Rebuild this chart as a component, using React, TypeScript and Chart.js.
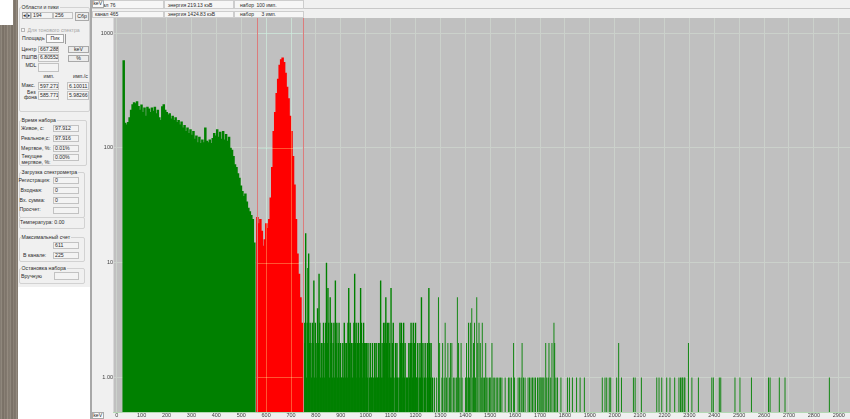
import { useEffect, useRef } from "react";
import { Chart, registerables } from "chart.js";

Chart.register(...registerables);

// ---- spectrum data ---------------------------------------------------------

// energy calibration: keV = offset + gain * channel
const CAL_OFFSET_KEV = -16;
const CAL_GAIN_KEV = 2.98;

// region of interest, in channels (same numbers as the ROI fields)
const ROI_CHANNELS = [194, 256];

// counts per pair of channels below the region of interest
const LOW_START_KEV = 28;
const LOW_COUNTS = [
  580, 165, 160, 168, 185, 215, 240, 250, 245, 255,
  232, 215, 238, 205, 225, 190, 228, 220, 205, 225,
  210, 228, 200, 215, 185, 175, 230, 240, 215, 205,
  195, 200, 180, 190, 175, 185, 168, 175, 160, 170,
  150, 158, 140, 150, 135, 145, 130, 140, 120, 128,
  112, 125, 110, 118, 112, 150, 115, 112, 118, 110,
  122, 135, 128, 145, 125, 138, 120, 140, 118, 132,
  115, 125, 100, 96, 85, 72, 68, 60, 55, 47,
  42, 38, 40, 34, 30, 28, 26, 24, 15,
];

// counts per pair of channels inside the region of interest (662 keV line)
const ROI_START_KEV = 565;
const ROI_COUNTS = [
  25, 22, 24, 19, 14, 16, 22, 20, 24, 37,
  68, 140, 205, 300, 400, 530, 590, 611, 560, 450,
  340, 270, 190, 140, 85, 48, 24, 12, 8, 5,
  3,
];

// counts per channel just above the region of interest
const TAIL_START_KEV = 750;
const TAIL_COUNTS = [
  1, 3, 2, 18, 1, 3, 9, 12, 2, 3,
  2, 1, 3, 2, 7, 1, 3, 2, 1, 4,
  2, 8, 3, 1, 2, 2, 1, 3, 1, 2,
  3, 10, 2, 6, 3, 1, 5, 2, 3, 1,
  2, 3, 1, 7, 2, 3, 1, 2, 3, 1,
  2, 1, 1, 2, 1, 3, 2, 1, 2, 1,
  3, 6, 2, 3, 1, 2, 1, 2, 3, 8,
  2, 3, 1, 2, 3, 1, 2, 6, 3, 2,
  1, 3, 2, 1, 2, 2, 1, 2, 0, 1,
  2, 1, 1, 2, 1, 0, 2, 1, 2, 1,
  1, 2, 1, 2, 7, 1, 2, 1, 3, 2,
  3, 5, 2, 3, 1, 3, 2, 1, 6, 1,
  2, 3, 1, 0, 2, 1, 2, 1, 0, 1,
  3, 2, 3, 1, 2, 3, 1, 2, 0, 1,
  1, 0, 2, 1, 2, 3, 2, 1, 3, 1,
  2, 3, 1, 1, 2, 0, 1, 2, 1, 5,
  1, 2, 0, 1, 2, 1, 0, 2, 1, 6,
  2, 1, 2, 0, 1,
];

// isolated non-empty channels at higher energies
const SPARSE_KEV = [
  1276, 1285, 1292, 1297,
  1306, 1309, 1315, 1319, 1324, 1330, 1336, 1340, 1346, 1352, 1358, 1364, 1368, 1373, 1378, 1383, 1387,
  1401, 1405, 1410, 1413, 1417, 1420, 1426, 1430, 1433, 1437, 1441, 1446, 1450, 1455, 1460, 1464,
  1468, 1472, 1477, 1482, 1486, 1491, 1497, 1502, 1507, 1512, 1518, 1524, 1530, 1536, 1541, 1547,
  1560, 1573, 1579, 1585, 1594, 1598,
  1612, 1618, 1624, 1628, 1634, 1640,
  1652, 1658, 1664, 1670, 1676, 1682, 1690, 1696, 1700, 1704, 1708, 1712, 1716, 1723, 1727, 1733,
  1736, 1743, 1748, 1756, 1759, 1764, 1770,
  1784, 1810, 1818, 1830, 1847, 1861, 1878,
  1950, 1961, 1968, 1978, 1984, 2008, 2016, 2027, 2075, 2082, 2107, 2169, 2178, 2189, 2209, 2222,
  2241, 2258, 2264, 2270, 2273, 2279, 2282, 2296, 2310, 2336, 2390, 2396, 2420, 2426, 2483, 2503,
  2549, 2618, 2624, 2661, 2684, 2862,
];
const SPARSE_COUNTS = [
  1, 1, 5, 2,
  1, 2, 1, 3, 1, 2, 1, 2, 2, 1, 1, 1, 5, 2, 1, 2, 1,
  1, 2, 1, 3, 1, 3, 4, 1, 2, 3, 1, 5, 2, 3, 2, 1,
  3, 1, 1, 2, 1, 1, 1, 1, 2, 1, 1, 1, 1, 1, 1, 1,
  1, 1, 1, 1, 2, 1,
  1, 1, 1, 2, 1, 1,
  1, 1, 1, 1, 1, 1, 1, 1, 1, 1, 1, 1, 1, 2, 1, 1,
  2, 1, 2, 3, 2, 1, 1,
  1, 1, 1, 1, 1, 1, 1,
  1, 1, 1, 1, 1, 1, 2, 1, 1, 1, 1, 1, 1, 1, 1, 1,
  1, 1, 1, 1, 1, 1, 1, 2, 1, 1, 1, 1, 1, 1, 1, 1,
  1, 1, 1, 1, 1, 1,
];

// ---- axes -------------------------------------------------------------------
const X_MIN_KEV = -13;
const X_MAX_KEV = 2945;
const X_TICKS = [
  0, 100, 200, 300, 400, 500, 600, 700, 800, 900, 1000, 1100, 1200, 1300, 1400,
  1500, 1600, 1700, 1800, 1900, 2000, 2100, 2200, 2300, 2400, 2500, 2600, 2700, 2800, 2900,
];
const Y_MIN = 0.5;
const Y_MAX = 1352;
const Y_TICKS = [1, 10, 100, 1000];
const Y_TICK_LABELS = ["1.00", "10", "100", "1000"];

// ---- styling ----------------------------------------------------------------
const FONT = '"Liberation Sans", Arial, sans-serif';
const GREEN = "#008000";
const RED = "#ff0000";
const PLOT_BG = "#c0c0c0";
const PANEL_BG = "#f0f0f0";
const GRID = "#cbd1cb";
const ROI_LINE = "#dc7c7c";
const TEXT = "#2a2a2a";

const keV = (ch: number) => CAL_OFFSET_KEV + CAL_GAIN_KEV * ch;

const series = (start: number, step: number, counts: number[]) =>
  counts.map((c, i) => ({ x: start + i * step, y: c })).filter((p) => p.y > 0);

const barStyle = (color: string, thickness: number) => ({
  backgroundColor: color,
  borderWidth: 0,
  barThickness: thickness,
  grouped: false,
  inflateAmount: 0,
});

const plotBackground = {
  id: "plotBackground",
  beforeDraw(chart: any) {
    const { ctx, chartArea } = chart;
    ctx.save();
    ctx.fillStyle = PLOT_BG;
    ctx.fillRect(chartArea.left, chartArea.top, chartArea.width, chartArea.height);
    ctx.restore();
  },
};

// grid showing through the filled ROI, and the two ROI borders
const roiMarkers = {
  id: "roiMarkers",
  afterDatasetsDraw(chart: any) {
    const { ctx, chartArea, scales } = chart;
    const { x, y } = scales;
    const [lo, hi] = ROI_CHANNELS.map((ch) => x.getPixelForValue(keV(ch)));
    ctx.save();
    ctx.beginPath();
    ctx.rect(lo, chartArea.top, hi - lo, chartArea.height);
    ctx.clip();
    ctx.globalCompositeOperation = "screen";
    ctx.strokeStyle = "rgb(0, 85, 50)";
    ctx.lineWidth = 1;
    ctx.beginPath();
    X_TICKS.forEach((v) => {
      const p = Math.round(x.getPixelForValue(v)) + 0.5;
      ctx.moveTo(p, chartArea.top);
      ctx.lineTo(p, chartArea.bottom);
    });
    Y_TICKS.forEach((v) => {
      const p = Math.round(y.getPixelForValue(v)) + 0.5;
      ctx.moveTo(lo, p);
      ctx.lineTo(hi, p);
    });
    ctx.stroke();
    ctx.restore();

    ctx.save();
    ctx.strokeStyle = ROI_LINE;
    ctx.lineWidth = 1;
    ctx.beginPath();
    [lo, hi].forEach((px) => {
      const p = Math.round(px) + 0.5;
      ctx.moveTo(p, chartArea.top);
      ctx.lineTo(p, chartArea.bottom);
    });
    ctx.stroke();
    ctx.restore();
  },
};

function SpectrumChart() {
  const ref = useRef<HTMLCanvasElement | null>(null);

  useEffect(() => {
    if (!ref.current) return;
    const tickFont = { family: FONT, size: 5.5 };
    const chart = new Chart(ref.current, {
      type: "bar",
      data: {
        datasets: [
          { data: series(LOW_START_KEV, 2 * CAL_GAIN_KEV, LOW_COUNTS), ...barStyle(GREEN, 2.5) },
          { data: series(ROI_START_KEV, 2 * CAL_GAIN_KEV, ROI_COUNTS), ...barStyle(RED, 2.5) },
          { data: series(TAIL_START_KEV, CAL_GAIN_KEV, TAIL_COUNTS), ...barStyle(GREEN, 1.4) },
          {
            data: SPARSE_KEV.map((e, i) => ({ x: e, y: SPARSE_COUNTS[i] })),
            ...barStyle(GREEN, 0.9),
          },
        ] as any,
      },
      options: {
        animation: false,
        responsive: false,
        devicePixelRatio: 1,
        events: [],
        layout: { padding: 0 },
        plugins: { legend: { display: false }, tooltip: { enabled: false } },
        scales: {
          x: {
            type: "linear",
            min: X_MIN_KEV,
            max: X_MAX_KEV,
            offset: false,
            afterBuildTicks: (s: any) => {
              s.ticks = X_TICKS.map((v) => ({ value: v }));
            },
            afterFit: (s: any) => {
              s.height = 7;
              s.paddingLeft = 0;
              s.paddingRight = 0;
            },
            ticks: {
              font: tickFont,
              color: "#404040",
              padding: 0.5,
              autoSkip: false,
              maxRotation: 0,
              minRotation: 0,
              callback: (v: any) => String(v),
            },
            grid: { color: GRID, drawTicks: false, offset: false, lineWidth: 1 },
            border: { display: true, color: "#b4d8b4" },
          },
          y: {
            type: "logarithmic",
            min: Y_MIN,
            max: Y_MAX,
            afterBuildTicks: (s: any) => {
              s.ticks = Y_TICKS.map((v) => ({ value: v }));
            },
            afterFit: (s: any) => {
              s.width = 21.5;
              s.paddingTop = 0;
              s.paddingBottom = 0;
            },
            ticks: {
              font: tickFont,
              color: "#404040",
              padding: 0.5,
              autoSkip: false,
              callback: (_v: any, i: number) => Y_TICK_LABELS[i],
            },
            grid: { color: GRID, drawTicks: false, lineWidth: 1 },
            border: { display: false },
          },
        },
      } as any,
      plugins: [plotBackground, roiMarkers],
    });
    return () => chart.destroy();
  }, []);

  return (
    <canvas
      ref={ref}
      width={758}
      height={401}
      style={{ position: "absolute", left: 92, top: 18, width: 758, height: 401, background: PANEL_BG }}
    />
  );
}

// ---- side panel widgets -----------------------------------------------------

type P = { [k: string]: any };

function Txt({ x, y, children, color = TEXT, size = 5.2, family = FONT }: P) {
  return (
    <div
      style={{
        position: "absolute",
        left: x,
        top: y - size * 0.6,
        fontSize: size,
        lineHeight: `${size * 1.2}px`,
        color,
        whiteSpace: "nowrap",
        fontFamily: family,
      }}
    >
      {children}
    </div>
  );
}

function Field({ x, y, w, h, text = "" }: P) {
  return (
    <div
      style={{
        position: "absolute",
        left: x,
        top: y,
        width: w,
        height: h,
        boxSizing: "border-box",
        border: "1px solid #c2c2c2",
        background: "#f3f3f3",
        fontSize: 5.2,
        lineHeight: `${h - 2}px`,
        paddingLeft: 1,
        color: TEXT,
        whiteSpace: "nowrap",
        overflow: "hidden",
        fontFamily: FONT,
      }}
    >
      {text}
    </div>
  );
}

function Btn({ x, y, w, h, text, family = FONT, bg = "#ececec" }: P) {
  return (
    <div
      style={{
        position: "absolute",
        left: x,
        top: y,
        width: w,
        height: h,
        boxSizing: "border-box",
        border: "1px solid #a9a9a9",
        background: bg,
        fontSize: 5.2,
        lineHeight: `${h - 2}px`,
        textAlign: "center",
        color: TEXT,
        whiteSpace: "nowrap",
        overflow: "hidden",
        fontFamily: family,
      }}
    >
      {text}
    </div>
  );
}

function Group({ x, y, w, h, title }: P) {
  return (
    <>
      <div
        style={{
          position: "absolute",
          left: x,
          top: y,
          width: w,
          height: h,
          boxSizing: "border-box",
          border: "1px solid #d2d2d2",
          borderRadius: 2,
        }}
      />
      {title ? (
        <div
          style={{
            position: "absolute",
            left: x + 2,
            top: y - 3,
            fontSize: 5.2,
            lineHeight: "6px",
            padding: "0 1px",
            background: PANEL_BG,
            color: TEXT,
            whiteSpace: "nowrap",
            fontFamily: FONT,
          }}
        >
          {title}
        </div>
      ) : null}
    </>
  );
}

function Box({ x, y, w, h, bg, border }: P) {
  return (
    <div
      style={{
        position: "absolute",
        left: x,
        top: y,
        width: w,
        height: h,
        boxSizing: "border-box",
        background: bg,
        border,
      }}
    />
  );
}

function SidePanel() {
  return (
    <>
      {/* wooden desktop edge */}
      <div
        style={{
          position: "absolute",
          left: 0,
          top: 0,
          width: 18,
          height: 419,
          background:
            "repeating-linear-gradient(90deg, #7f776d 0px, #8f877c 1.5px, #72695f 3px, #8a8176 4.5px, #786f65 6px, #948b80 7.5px, #7d7469 9px)",
        }}
      />
      <Box x={0} y={0} w={13} h={25} bg="#ffffff" />
      <Box x={18} y={0} w={72} h={287} bg={PANEL_BG} />
      <Box x={18} y={287} w={72} h={132} bg="#ffffff" />
      <Box x={90} y={0} w={1.5} h={419} bg="#a8a8a8" />
      <Box x={91.5} y={0} w={0.5} h={419} bg="#dcdcdc" />

      {/* regions and peaks */}
      <Group x={18.5} y={7} w={71} h={105} title="Области и пики" />
      <Btn x={22} y={12} w={4.5} h={7} text="◂" family='"DejaVu Sans", sans-serif' />
      <Btn x={26.5} y={12} w={4.5} h={7} text="▸" family='"DejaVu Sans", sans-serif' />
      <Field x={31} y={12} w={22} h={7} text={String(ROI_CHANNELS[0])} />
      <Field x={53} y={12} w={20} h={7} text={String(ROI_CHANNELS[1])} />
      <Btn x={75} y={12} w={14} h={8.5} text="Сбр" />
      <Box x={21} y={27.5} w={4} h={4} border="1px solid #b8b8b8" bg="#f6f6f6" />
      <Txt x={27.5} y={29.7} color="#a6a6a6">Для тонового спектра</Txt>
      <Txt x={22} y={38.5}>Площадь</Txt>
      <Btn x={46} y={34} w={18} h={9} text="Пик" bg="#fafafa" />
      <Box x={64.5} y={33.5} w={0.8} h={10} bg="#9a9a9a" />
      <Txt x={21.5} y={49.5}>Центр</Txt>
      <Field x={38} y={45.5} w={21} h={7.5} text="667.288" />
      <Btn x={68} y={45.5} w={21} h={7.5} text="keV" />
      <Txt x={21.5} y={57.5}>ПШПВ</Txt>
      <Field x={38} y={54} w={21} h={7.5} text="6.80552" />
      <Btn x={68} y={54.5} w={21} h={7.5} text="%" />
      <Txt x={25.5} y={65.5}>MDL</Txt>
      <Field x={38} y={62.5} w={21} h={9.5} />
      <Txt x={43.5} y={76}>имп.</Txt>
      <Txt x={73} y={76}>имп./с</Txt>
      <Txt x={21.5} y={85.5}>Макс.</Txt>
      <Field x={38} y={81.5} w={21} h={8} text="597.271" />
      <Field x={67} y={81.5} w={21.5} h={8} text="6.10011" />
      <Txt x={27} y={92.5}>Без</Txt>
      <Txt x={24} y={97.5}>фона</Txt>
      <Field x={38} y={91} w={21} h={8.5} text="585.771" />
      <Field x={67} y={91} w={21.5} h={8.5} text="5.98266" />

      {/* acquisition time */}
      <Group x={18.5} y={120} w={68} h={46} title="Время набора" />
      <Txt x={21} y={128.5}>Живое, с:</Txt>
      <Field x={53} y={125} w={25.5} h={7} text="97.912" />
      <Txt x={21} y={138.5}>Реальное,с:</Txt>
      <Field x={53} y={135} w={25.5} h={7} text="97.916" />
      <Txt x={21} y={148}>Мертвое, %:</Txt>
      <Field x={53} y={144.5} w={25.5} h={7} text="0.01%" />
      <Txt x={21.5} y={156.5}>Текущее</Txt>
      <Txt x={21.5} y={162}>мертвое, %:</Txt>
      <Field x={53} y={154} w={25.5} h={7} text="0.00%" />

      {/* spectrometer load */}
      <Group x={18.5} y={172} w={66} h={46} title="Загрузка спектрометра" />
      <Txt x={18.5} y={180}>Регистрация:</Txt>
      <Field x={53} y={176.5} w={25.5} h={7} text="0" />
      <Txt x={20.5} y={190}>Входная:</Txt>
      <Field x={53} y={186.5} w={25.5} h={7} text="0" />
      <Txt x={19.5} y={200}>Вх. сумма:</Txt>
      <Field x={53} y={196.5} w={25.5} h={7} text="0" />
      <Txt x={19.5} y={209.5}>Просчет:</Txt>
      <Field x={53} y={206.5} w={25.5} h={7} />
      <Group x={18.5} y={217} w={66} h={11.5} />
      <Txt x={20} y={222.5}>Температура: 0.00</Txt>

      {/* maximum count */}
      <Group x={18.5} y={237} w={66} h={25} title="Максимальный счет" />
      <Field x={53} y={241.5} w={25.5} h={7} text="611" />
      <Txt x={23} y={255}>В канале:</Txt>
      <Field x={53} y={251.5} w={25.5} h={7} text="225" />

      {/* acquisition stop */}
      <Group x={18.5} y={268} w={66} h={16} title="Остановка набора" />
      <Txt x={21} y={276}>Вручную</Txt>
      <Field x={54} y={272} w={25} h={8} />
    </>
  );
}

function StatusRows() {
  const seg = (x: number, y: number, w: number, h: number) => (
    <Box x={x} y={y} w={w} h={h} bg="#f6f6f6" border="1px solid #cdcdcd" />
  );
  return (
    <>
      <Box x={92} y={0} w={758} h={18} bg={PANEL_BG} />
      <Box x={92} y={8} w={758} h={0.8} bg="#c8c8c8" />
      {seg(92, 0, 72, 8.5)}
      {seg(163.5, 0, 70.5, 8.5)}
      {seg(233.5, 0, 70, 8.5)}
      {seg(92, 10.5, 72, 7.5)}
      {seg(163.5, 10.5, 70.5, 7.5)}
      {seg(233.5, 10.5, 70, 7.5)}
      <Txt x={95} y={4.5} size={5}>канал 76</Txt>
      <Txt x={168} y={4.5} size={5}>энергия 219.13 кэВ</Txt>
      <Txt x={240} y={4.5} size={5}>набор</Txt>
      <Txt x={256.5} y={4.5} size={5}>100 имп.</Txt>
      <Txt x={95} y={14.2} size={5}>канал 465</Txt>
      <Txt x={168} y={14.2} size={5}>энергия 1424.83 кэВ</Txt>
      <Txt x={240} y={14.2} size={5}>набор</Txt>
      <Txt x={261.5} y={14.2} size={5}>3 имп.</Txt>
      <Btn x={92} y={0} w={11.5} h={7.5} text="keV" bg="#fafafa" />
    </>
  );
}

export default function App() {
  return (
    <div
      style={{
        position: "fixed",
        left: 0,
        top: 0,
        width: 850,
        height: 419,
        overflow: "hidden",
        background: "#ffffff",
        fontFamily: FONT,
      }}
    >
      <SidePanel />
      <StatusRows />
      <SpectrumChart />
      <Btn x={92} y={412} w={11.5} h={7} text="keV" bg="#fafafa" />
    </div>
  );
}
